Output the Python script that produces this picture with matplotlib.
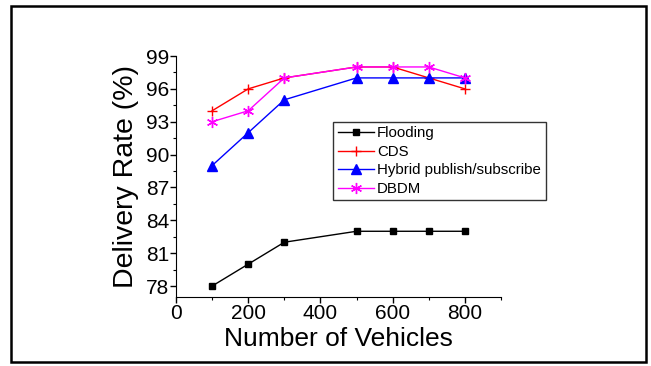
import matplotlib
matplotlib.use("Agg")
import matplotlib.pyplot as plt
from matplotlib.patches import Rectangle
from matplotlib.ticker import MultipleLocator

plt.rcParams['font.family'] = ['Liberation Sans', 'DejaVu Sans']

vehicles = [100, 200, 300, 500, 600, 700, 800]
flooding = [78, 80, 82, 83, 83, 83, 83]
cds = [94, 96, 97, 98, 98, 97, 96]
hybrid = [89, 92, 95, 97, 97, 97, 97]
dbdm = [93, 94, 97, 98, 98, 98, 97]
labels = ["Flooding", "CDS", "Hybrid publish/subscribe", "DBDM"]
y_ticks = [78, 81, 84, 87, 90, 93, 96, 99]
x_ticks = [0, 200, 400, 600, 800]

W, H = 651, 366
fig = plt.figure(figsize=(W / 100, H / 100), dpi=100)
ax = fig.add_axes([176 / W, 1 - 297 / H, 325 / W, 241 / H])

ax.plot(vehicles, flooding, color='black', marker='s', markersize=5, lw=1, label=labels[0])
ax.plot(vehicles, cds, color='red', marker='+', markersize=7, mew=1, lw=1, label=labels[1])
ax.plot(vehicles, hybrid, color='blue', marker='^', markersize=7, lw=1, label=labels[2])
ax.plot(vehicles, dbdm, color='magenta', marker=(6, 2, 0), markersize=8, mew=1, lw=1, label=labels[3])

ax.set_xlim(0, 900)
ax.set_ylim(77, 99)
ax.set_xticks(x_ticks)
ax.set_yticks(y_ticks)
ax.xaxis.set_minor_locator(MultipleLocator(100))
ax.yaxis.set_minor_locator(MultipleLocator(1.5))
ax.spines['top'].set_visible(False)
ax.spines['right'].set_visible(False)
ax.tick_params(axis='both', which='major', direction='out', length=4, width=1, labelsize=15, pad=1)
ax.tick_params(axis='both', which='minor', direction='out', length=2, width=0.8)
ax.set_xlabel("Number of Vehicles", fontsize=19, labelpad=3)
ax.set_ylabel("Delivery Rate (%)", fontsize=20.5, labelpad=5)

leg = fig.legend(loc='upper left', bbox_to_anchor=(333 / W, 1 - 122 / H), fontsize=10.8,
                 frameon=True, fancybox=False, edgecolor='black', handlelength=2.4,
                 labelspacing=0.3, borderpad=0.3, handletextpad=0.25, borderaxespad=0)
leg.get_frame().set_linewidth(1)

fig.patches.append(Rectangle((11 / W, 1 - 362 / H), 635 / W, 356 / H, transform=fig.transFigure,
                             fill=False, edgecolor='black', lw=1.8))

fig.savefig("out.png", dpi=100)
